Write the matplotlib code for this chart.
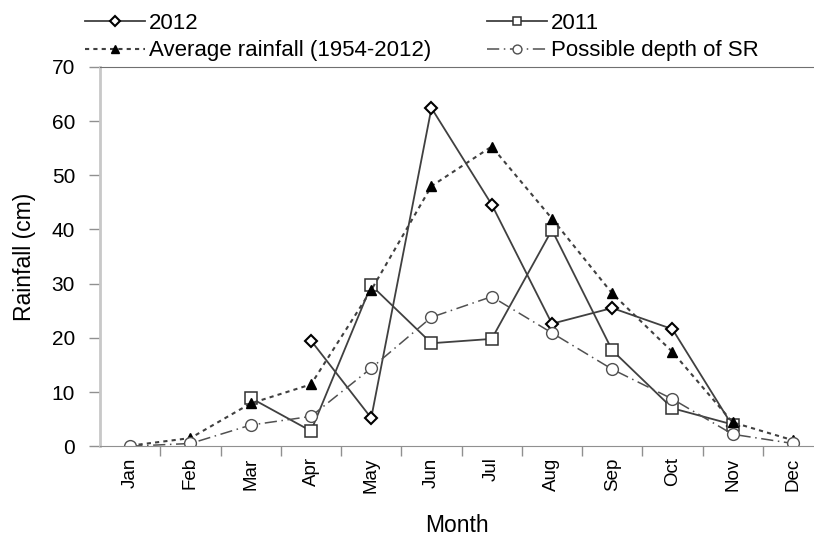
import numpy as np
import matplotlib
matplotlib.use("Agg")
import matplotlib.pyplot as plt

plt.rcParams['font.family'] = ['Liberation Sans', 'DejaVu Sans']

months = ["Jan", "Feb", "Mar", "Apr", "May", "Jun", "Jul", "Aug", "Sep", "Oct", "Nov", "Dec"]
nan = np.nan
rain_2012 = [nan, nan, nan, 19.5, 5.2, 62.4, 44.6, 22.6, 25.5, 21.6, 3.7, nan]
rain_2011 = [nan, nan, 8.9, 2.8, 29.7, 19.0, 19.8, 39.9, 17.7, 7.0, 4.0, nan]
avg_rain = [0.1, 1.5, 7.9, 11.4, 28.8, 48.0, 55.3, 42.0, 28.2, 17.4, 4.4, 1.1]
sr_depth = [0.0, 0.5, 3.9, 5.5, 14.4, 23.8, 27.6, 20.9, 14.2, 8.7, 2.2, 0.5]

x = np.arange(len(months))

fig = plt.figure(figsize=(8.14, 5.35), dpi=100)
ax = fig.add_axes([0.123, 0.166, 0.877, 0.709])

l1, = ax.plot(x, rain_2012, color="#404040", lw=1.3, marker="D", ms=6.5,
              mfc="white", mec="black", mew=1.5, label="2012")
l2, = ax.plot(x, rain_2011, color="#404040", lw=1.3, marker="s", ms=8.5,
              mfc="white", mec="#303030", mew=1.1, label="2011")
l3, = ax.plot(x, avg_rain, color="#404040", lw=1.5, ls=(0, (2, 2)), marker="^", ms=7.5,
              mfc="black", mec="black", label="Average rainfall (1954-2012)")
l4, = ax.plot(x, sr_depth, color="#505050", lw=1.1, ls=(0, (8, 3, 1, 3)), marker="o", ms=8.5,
              mfc="white", mec="#505050", mew=1.0, label="Possible depth of SR")

ax.set_xlim(-0.5, 11.35)
ax.set_ylim(0, 70)
ax.set_yticks(range(0, 71, 10))
ax.set_xticks(x)
ax.set_xticklabels(months, rotation=90, fontsize=13.5)
ax.set_xticks(np.arange(0.5, 11, 1), minor=True)
ax.tick_params(axis="x", which="major", length=0, pad=8)
ax.tick_params(axis="x", which="minor", length=7, color="#909090", width=1)
ax.tick_params(axis="y", length=8, color="#909090", width=1, labelsize=15, pad=10)

ax.spines["right"].set_visible(False)
ax.spines["left"].set_color("#c8c8c8")
ax.spines["left"].set_linewidth(2)
ax.spines["bottom"].set_color("#909090")
ax.spines["top"].set_color("#707070")

ax.set_xlabel("Month", fontsize=16.5, labelpad=15)
ax.set_ylabel("Rainfall (cm)", fontsize=16.5, labelpad=11)

# row-major order: 2012, 2011 / average, SR
fig.legend(handles=[l1, l3, l2, l4], ncol=2, loc="upper left",
           bbox_to_anchor=(0.093, 0.993), frameon=False, fontsize=16,
           handlelength=2.7, handletextpad=0.2, columnspacing=2.5,
           labelspacing=0.3, borderaxespad=0, markerscale=0.75)

fig.savefig("out.png", dpi=100)
